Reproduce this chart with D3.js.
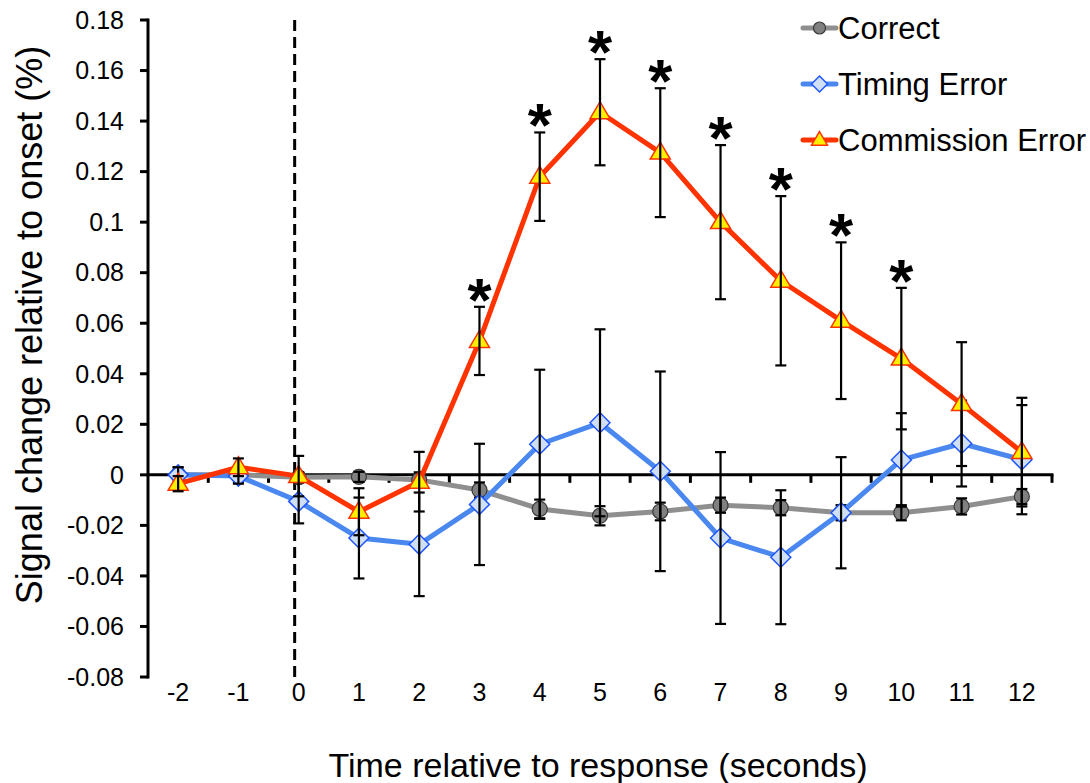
<!DOCTYPE html>
<html>
<head>
<meta charset="utf-8">
<script src="https://cdn.jsdelivr.net/npm/d3@7"></script>
<style>
  html, body { margin: 0; padding: 0; background: #fff; }
  svg { display: block; font-family: "Liberation Sans", Arial, Helvetica, sans-serif; }
</style>
</head>
<body>
<svg id="chart" width="1090" height="783"></svg>
<script>
// ---- data ----
const categories = [-2, -1, 0, 1, 2, 3, 4, 5, 6, 7, 8, 9, 10, 11, 12];
const xTickLabels = ["-2","-1","0","1","2","3","4","5","6","7","8","9","10","11","12"];
const yTickValues = [-0.08, -0.06, -0.04, -0.02, 0, 0.02, 0.04, 0.06, 0.08, 0.1, 0.12, 0.14, 0.16, 0.18];
const yTickLabels = ["-0.08","-0.06","-0.04","-0.02","0","0.02","0.04","0.06","0.08","0.1","0.12","0.14","0.16","0.18"];

const correctValues    = [0.000, 0.000, -0.001, -0.0008, -0.002, -0.006, -0.0135, -0.0162, -0.0145, -0.012, -0.013, -0.015, -0.015, -0.0125, -0.0086];
const correctErrors    = [0.003, 0.003, 0.002, 0.002, 0.003, 0.003, 0.0037, 0.0038, 0.0035, 0.003, 0.003, 0.003, 0.003, 0.0032, 0.003];
const timingValues     = [0.000, -0.0005, -0.0105, -0.025, -0.0275, -0.0117, 0.0121, 0.0206, 0.0014, -0.025, -0.0326, -0.015, 0.0059, 0.0124, 0.006];
const timingErrors     = [0.003, 0.003, 0.0087, 0.016, 0.0205, 0.024, 0.0295, 0.037, 0.0395, 0.034, 0.0265, 0.022, 0.0185, 0.017, 0.0216];
const commissionValues = [-0.0035, 0.003, -0.0005, -0.0146, -0.0027, 0.053, 0.118, 0.1435, 0.1275, 0.100, 0.0768, 0.061, 0.046, 0.028, 0.009];
const commissionErrors = [0.003, 0.0035, 0.008, 0.0093, 0.0118, 0.0135, 0.0175, 0.021, 0.0255, 0.0305, 0.0335, 0.031, 0.028, 0.0245, 0.0215];
const significant = [3, 4, 5, 6, 7, 8, 9, 10];
const seriesNames = ["Correct", "Timing Error", "Commission Error"];

// ---- layout ----
const svg = d3.select("#chart");
const plotLeft = 148, plotRight = 1052, plotTop = 20, plotBottom = 677;
const x = d3.scalePoint().domain(categories).range([plotLeft, plotRight]).padding(0.5);
const y = d3.scaleLinear().domain([-0.08, 0.18]).range([plotBottom, plotTop]);
const step = x.step();

const styles = [
  {line: "#8f8f8f", fill: "#808080", stroke: "#3a3a3a", shape: "circle"},
  {line: "#4a88f0", fill: "#cfe0f6", stroke: "#1f55ff", shape: "diamond"},
  {line: "#ff3300", fill: "#ffee00", stroke: "#ff3300", shape: "triangle"}
];
const series = [
  {name: seriesNames[0], values: correctValues, errors: correctErrors, style: styles[0]},
  {name: seriesNames[1], values: timingValues, errors: timingErrors, style: styles[1]},
  {name: seriesNames[2], values: commissionValues, errors: commissionErrors, style: styles[2]}
];

// ---- y axis ----
const yAxisG = svg.append("g");
yAxisG.append("line").attr("x1", plotLeft).attr("x2", plotLeft).attr("y1", plotTop - 1.5).attr("y2", plotBottom + 1.5)
  .attr("stroke", "#000").attr("stroke-width", 3);
yTickValues.forEach((v, i) => {
  yAxisG.append("line").attr("x1", plotLeft - 8).attr("x2", plotLeft).attr("y1", y(v)).attr("y2", y(v))
    .attr("stroke", "#000").attr("stroke-width", 3);
  yAxisG.append("text").attr("x", 124).attr("y", y(v)).attr("dy", "0.35em").attr("text-anchor", "end")
    .attr("font-size", 25).attr("fill", "#000").text(yTickLabels[i]);
});

// ---- dashed onset line ----
svg.append("line").attr("x1", x(0) - 4).attr("x2", x(0) - 4).attr("y1", plotTop).attr("y2", plotBottom + 1)
  .attr("stroke", "#000").attr("stroke-width", 3).attr("stroke-dasharray", "11,6");

// ---- x axis (at zero) ----
const xAxisG = svg.append("g");
xAxisG.append("line").attr("x1", plotLeft).attr("x2", plotRight + 1.5).attr("y1", y(0)).attr("y2", y(0))
  .attr("stroke", "#000").attr("stroke-width", 3);
for (let i = 1; i <= categories.length; i++) {
  const bx = plotLeft + i * step;
  xAxisG.append("line").attr("x1", bx).attr("x2", bx).attr("y1", y(0)).attr("y2", y(0) + 8)
    .attr("stroke", "#000").attr("stroke-width", 3);
}
categories.forEach((c, i) => {
  xAxisG.append("text").attr("x", x(c)).attr("y", 701).attr("text-anchor", "middle")
    .attr("font-size", 25).attr("fill", "#000").text(xTickLabels[i]);
});

// ---- axis titles ----
svg.append("text").attr("x", 598).attr("y", 777).attr("text-anchor", "middle")
  .attr("font-size", 34).attr("fill", "#000").text("Time relative to response (seconds)");
svg.append("text").attr("transform", "translate(42,325) rotate(-90)").attr("text-anchor", "middle")
  .attr("font-size", 36).attr("fill", "#000").text("Signal change relative to onset (%)");

// ---- markers ----
function drawMarker(g, shape, cx, cy, st, scale) {
  const s = scale || 1;
  if (shape === "circle") {
    g.append("circle").attr("cx", cx).attr("cy", cy).attr("r", 7.5 * s)
      .attr("fill", st.fill).attr("stroke", st.stroke).attr("stroke-width", 1.2);
  } else if (shape === "diamond") {
    const r = 10 * s;
    g.append("path").attr("d", `M${cx},${cy - r}L${cx + r},${cy}L${cx},${cy + r}L${cx - r},${cy}Z`)
      .attr("fill", st.fill).attr("stroke", st.stroke).attr("stroke-width", 1.5);
  } else {
    const w = 10 * s, h = 17 * s;
    g.append("path").attr("d", `M${cx},${cy - h * 0.62}L${cx + w},${cy + h * 0.38}L${cx - w},${cy + h * 0.38}Z`)
      .attr("fill", st.fill).attr("stroke", st.stroke).attr("stroke-width", 1.5).attr("stroke-linejoin", "miter");
  }
}

const line = d3.line().x((d, i) => x(categories[i])).y(d => y(d));

series.forEach(s => {
  const g = svg.append("g");
  g.append("path").attr("d", line(s.values)).attr("fill", "none")
    .attr("stroke", s.style.line).attr("stroke-width", 5).attr("stroke-linejoin", "round");
  s.values.forEach((v, i) => drawMarker(g, s.style.shape, x(categories[i]), y(v), s.style));
  s.values.forEach((v, i) => {
    const cx = x(categories[i]);
    const top = y(v + s.errors[i]), bot = y(v - s.errors[i]);
    g.append("line").attr("x1", cx).attr("x2", cx).attr("y1", top).attr("y2", bot)
      .attr("stroke", "#000").attr("stroke-width", 2.2);
    [top, bot].forEach(yy => g.append("line").attr("x1", cx - 5.5).attr("x2", cx + 5.5).attr("y1", yy).attr("y2", yy)
      .attr("stroke", "#000").attr("stroke-width", 2.2));
  });
});

// ---- significance stars ----
significant.forEach(c => {
  const i = categories.indexOf(c);
  const topY = y(commissionValues[i] + commissionErrors[i]);
  svg.append("text").attr("x", x(c)).attr("y", topY + 14).attr("text-anchor", "middle")
    .attr("font-size", 62).attr("font-weight", "bold").attr("fill", "#000").text("*");
});

// ---- legend ----
const legendYs = [28, 84, 140];
series.forEach((s, k) => {
  const g = svg.append("g");
  const ly = legendYs[k];
  g.append("line").attr("x1", 803).attr("x2", 836).attr("y1", ly).attr("y2", ly)
    .attr("stroke", s.style.line).attr("stroke-width", 5).attr("stroke-linecap", "round");
  drawMarker(g, s.style.shape, 819.5, ly, s.style, 0.8);
  g.append("text").attr("x", 838).attr("y", ly).attr("dy", "0.36em")
    .attr("font-size", 31).attr("fill", "#000").text(s.name);
});
</script>
</body>
</html>
